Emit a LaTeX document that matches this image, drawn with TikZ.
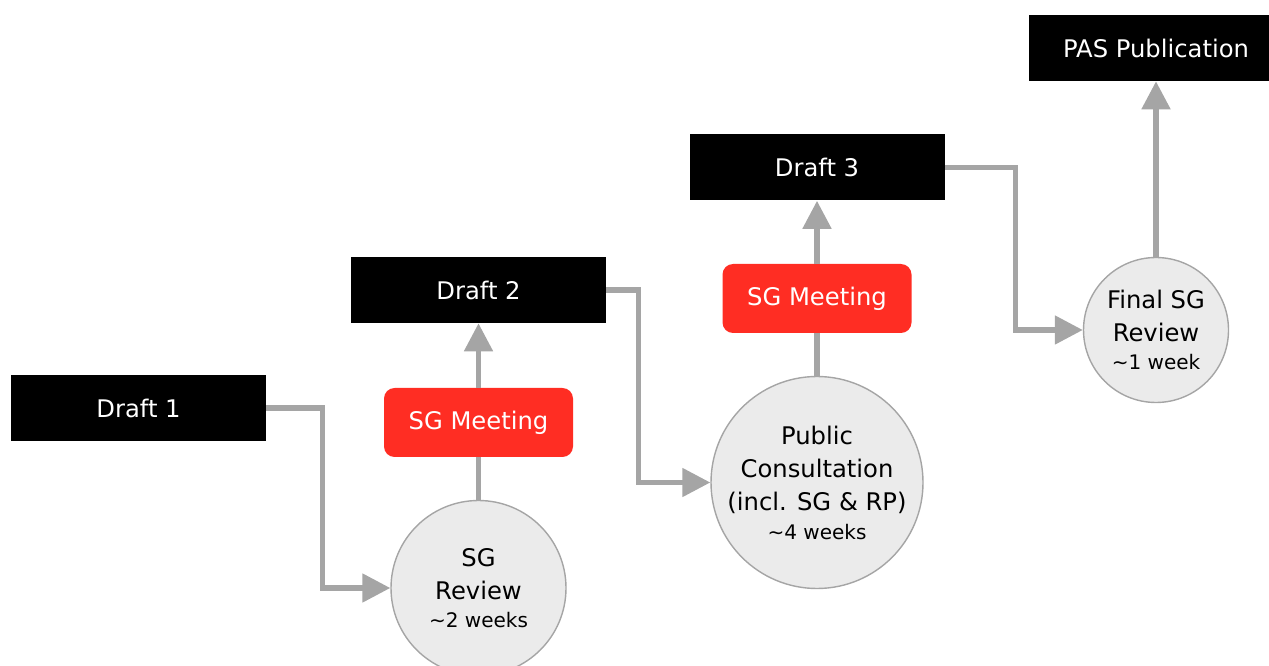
\documentclass[tikz,border=0pt]{standalone}
\usepackage{fontspec}
\setmainfont{DejaVu Sans}
\usetikzlibrary{arrows.meta,positioning}
\definecolor{sgred}{RGB}{255,45,35}
\definecolor{linegray}{RGB}{165,165,165}
\definecolor{circgray}{RGB}{235,235,235}
\tikzset{%
	draftbox/.style = {fill=black, text=white, rectangle, minimum width=5.1cm, minimum height=1.32cm, text centered, font=\fontsize{13.8}{16}\selectfont},
	meeting/.style  = {fill=sgred, text=white, rectangle, rounded corners=6pt, minimum width=3.78cm, minimum height=1.38cm, text centered, font=\fontsize{13.8}{16}\selectfont},
	review/.style   = {draw=linegray, fill=circgray, circle, line width=0.8pt, inner sep=0pt, align=center, font=\fontsize{13.8}{19}\selectfont},
	link/.style     = {line width=2.9pt, draw=linegray},
	arrow/.style    = {link, -{Triangle[length=5.6mm,width=5.6mm]}},
}
\newcommand{\dur}[1]{{\fontsize{11.4}{12}\selectfont\textasciitilde#1}}

\begin{document}
\begin{tikzpicture}
	\useasboundingbox (0,0) rectangle (25.38,-13.32);
	
	\node[draftbox] (draft1) at (2.77,-8.16) {Draft 1};
	\node[draftbox] (draft2) at (9.57,-5.80) {Draft 2};
	\node[draftbox] (draft3) at (16.34,-3.35) {Draft 3};
	\node[draftbox] (pas) at (23.12,-0.96) {PAS Publication};
	
	\node[meeting] (meet1) at (9.57,-8.45) {SG Meeting};
	\node[meeting] (meet2) at (16.34,-5.97) {SG Meeting};
	
	\node[review, minimum size=3.5cm] (review1) at (9.57,-11.76) {SG\\Review\\[-3pt]\dur{2 weeks}};
	\node[review, minimum size=4.24cm] (consult) at (16.34,-9.65) {Public\\Consultation\\(incl. SG \& RP)\\[-3pt]\dur{4 weeks}};
	\node[review, minimum size=2.9cm] (final) at (23.12,-6.60) {Final SG\\Review\\[-3pt]\dur{1 week}};
	
	\draw[arrow] (draft1.east) -- ++(1.12,0) |- (review1.west);
	\draw[link] (review1.north) -- (meet1.south);
	\draw[arrow] (meet1.north) -- (draft2.south);
	\draw[arrow] (draft2.east) -- ++(0.64,0) |- (consult.west);
	\draw[link] (consult.north) -- (meet2.south);
	\draw[arrow] (meet2.north) -- (draft3.south);
	\draw[arrow] (draft3.east) -- ++(1.41,0) |- (final.west);
	\draw[arrow] (final.north) -- (pas.south);
\end{tikzpicture}
\end{document}
